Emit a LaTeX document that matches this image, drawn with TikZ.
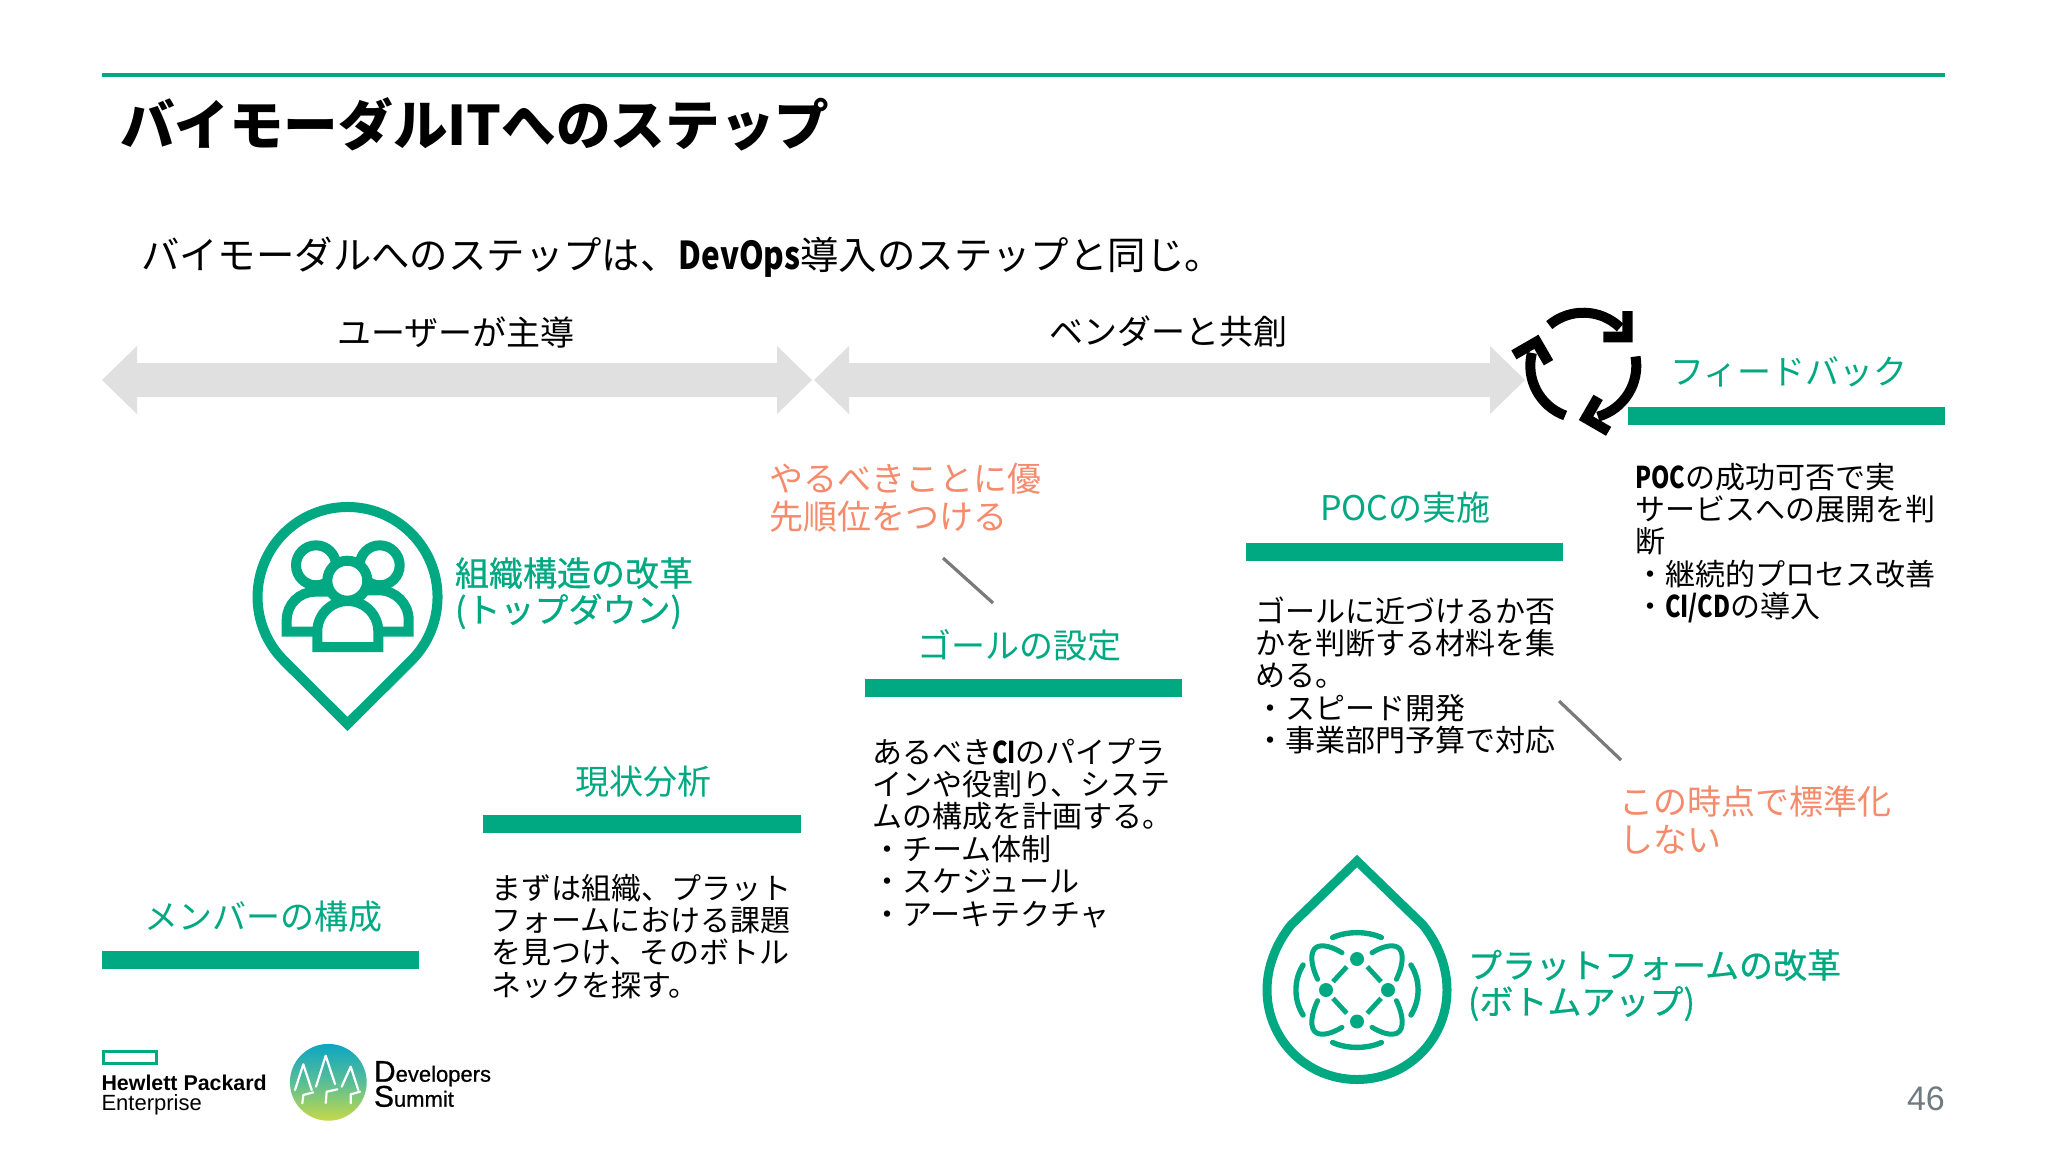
\documentclass[tikz,border=0pt]{standalone}
\usepackage{fontspec}
\setmainfont{Noto Sans CJK JP}
\newfontfamily\latinsans{Liberation Sans}
\newfontfamily\latinheavy[FakeBold=0.7]{Liberation Sans}
\newfontfamily\cjkheavy[FakeBold=0.6]{Noto Sans CJK JP}
\definecolor{hpegreen}{HTML}{01A982}
\definecolor{arrowgray}{HTML}{E0E0E1}
\definecolor{notegray}{HTML}{7A7A7A}
\definecolor{noteorange}{HTML}{F58B6C}
\definecolor{pagegray}{HTML}{6F7B80}
\newcommand{\linesat}[2]{\fontsize{#1}{#2}\selectfont}
\newcommand{\stack}[1]{\vtop{\lineskiplimit=-100pt\lineskip=0pt\def\\{\cr}\halign{##\hfil\cr #1\crcr}}}
\newcommand{\narrowbf}[1]{\scalebox{0.78}[1]{\bfseries #1}}
\tikzset{
  x=0.5pt,y=0.5pt,
  txt/.style={inner sep=0pt,outer sep=0pt,anchor=base west},
  head/.style={txt,text=hpegreen,font=\linesat{17}{19}},
  body/.style={txt,text=black,font=\linesat{15}{16.2}},
  orange/.style={txt,text=noteorange,font=\linesat{17}{19}},
  label/.style={txt,text=hpegreen,font=\cjkheavy\linesat{17}{18.2}},
  bar/.style={fill=hpegreen,draw=none},
  band/.style={fill=arrowgray,draw=none},
  note/.style={draw=notegray,line width=1.6pt},
  ico/.style={draw=hpegreen,line width=5pt,miter limit=10,fill=none},
  tree/.style={draw=white,line width=1.1pt,line join=round,line cap=round},
}
\begin{document}
\begin{tikzpicture}
\useasboundingbox (0,0) rectangle (2048,-1152);
\fill[white] (0,0) rectangle (2048,-1152);
% top rule + title
\fill[hpegreen] (102,-73) rectangle (1945,-76.5);
\node[txt,font=\linesat{27.3}{30}\bfseries] (title) at (120,-145) {バイモーダルITへのステップ};
\node[txt,font=\linesat{19.2}{22}] (sub) at (141,-269) {バイモーダルへのステップは、\scalebox{0.82}[1]{\bfseries DevOps}導入のステップと同じ。};
% band arrows
\node[head,text=black] (t1) at (337,-345) {ユーザーが主導};
\node[head,text=black] (t2) at (1049,-344) {ベンダーと共創};
\fill[band] (102,-380) -- (137,-346) -- (137,-363) -- (777,-363) -- (777,-346) -- (812,-380) -- (777,-414) -- (777,-397) -- (137,-397) -- (137,-414) -- cycle;
\fill[band] (814,-380) -- (849,-346) -- (849,-363) -- (1490,-363) -- (1490,-346) -- (1525,-380) -- (1490,-414) -- (1490,-397) -- (849,-397) -- (849,-414) -- cycle;
% cycle icon
\foreach \r in {0,-120,-240}{
  \begin{scope}[shift={(1583.3,-365.7)},rotate=\r]
    \draw[line width=5pt,black] (130:26.5pt) arc[start angle=130,end angle=46,radius=26.5pt];
    \fill[black] (49.3,54.7) -- (49.3,23.3) -- (20,23.3) -- (20,34) -- (39,34) -- (39,54.7) -- cycle;
  \end{scope}
}
% bars
\fill[bar] (102,-951) rectangle (419,-969);
\fill[bar] (483,-815) rectangle (801,-833);
\fill[bar] (865,-679) rectangle (1182,-697);
\fill[bar] (1246,-543) rectangle (1563,-561);
\fill[bar] (1628,-407) rectangle (1945,-425);
% headings
\node[head] (h1) at (144,-929) {メンバーの構成};
\node[head] (h2) at (575,-794) {現状分析};
\node[head] (h3) at (917,-658) {ゴールの設定};
\node[head] (h4) at (1320,-520) {POCの実施};
\node[head] (h5) at (1670,-384) {フィードバック};
% body
\node[body] (b2) at (491,-899) {\stack{まずは組織、プラット\\フォームにおける課題\\を見つけ、そのボトル\\ネックを探す。}};
\node[body] (b3) at (872,-763) {\stack{あるべき\narrowbf{CI}のパイプラ\\インや役割り、システ\\ムの構成を計画する。\\・チーム体制\\・スケジュール\\・アーキテクチャ}};
\node[body] (b4) at (1255,-622) {\stack{ゴールに近づけるか否\\かを判断する材料を集\\める。\\・スピード開発\\・事業部門予算で対応}};
\node[body] (b5) at (1635,-488) {\stack{\narrowbf{POC}の成功可否で実\\サービスへの展開を判\\断\\・継続的プロセス改善\\・\narrowbf{CI/CD}の導入}};
% orange notes
\node[orange] (o1) at (769,-491) {\stack{やるべきことに優\\先順位をつける}};
\node[orange] (o2) at (1619,-814) {\stack{この時点で標準化\\しない}};
\coordinate (n1a) at (943,-558); \coordinate (n1b) at (993,-603);
\coordinate (n2a) at (1559,-701); \coordinate (n2b) at (1621,-760);
\draw[note] (n1a) -- (n1b);
\draw[note] (n2a) -- (n2b);
% pin icon
\draw[ico] (347.5,-724) -- (283.9,-660.6) arc[start angle=225,end angle=-45,radius=45pt] -- cycle;
\draw[ico] (318,-631.7) -- (286.7,-631.7) -- (286.7,-620) arc[start angle=180,end angle=90,radius=14.15pt] -- (330,-591.7);
\draw[ico] (378,-631.7) -- (408.7,-631.7) -- (408.7,-620) arc[start angle=0,end angle=90,radius=14.85pt] -- (365,-590.3);
\draw[ico] (316,-565.3) circle[radius=10pt];
\draw[ico] (379.7,-565.3) circle[radius=10pt];
\draw[ico,fill=white] (347.3,-580.7) circle[radius=10pt];
\draw[ico,fill=white] (317.3,-647) -- (317.3,-631.5) arc[start angle=180,end angle=0,radius=15.25pt] -- (378.3,-647) -- cycle;
\node[label] (l1) at (455,-586) {\stack{組織構造の改革\\(トップダウン)}};
% droplet icon
\draw[ico,line width=4.5pt] (1357,-861) -- (1291,-925) .. controls (1275,-945) and (1267,-968) .. (1267,-990) .. controls (1267,-1040) and (1307,-1079.5) .. (1357,-1079.5) .. controls (1407,-1079.5) and (1447,-1040) .. (1447,-990) .. controls (1447,-968) and (1439,-945) .. (1423,-925) -- cycle;
\foreach \sx/\sy in {1/1,-1/1,1/-1,-1/-1}{
 \begin{scope}[shift={(1357,-990)},xscale=\sx,yscale=\sy]
  \begin{scope}[xscale=1.22]
  \draw[hpegreen,line width=2.5pt,line cap=round] (-12.3,37.3) .. controls (-20,43) and (-28,46) .. (-33,43) .. controls (-39,39) and (-38,25) .. (-32.3,10.7);
  \draw[hpegreen,line width=2.4pt] (-19.7,8.3) -- (-8.4,23.3);
  \end{scope}
 \end{scope}
}
\begin{scope}[shift={(1357,-990)},xscale=1.22]
\draw[hpegreen,line width=2.7pt,line cap=round] (-20,52.5) .. controls (-8,59) and (8,59) .. (20,52.5);
\draw[hpegreen,line width=2.7pt,line cap=round] (-20,-52.5) .. controls (-8,-59) and (8,-59) .. (20,-52.5);
\draw[hpegreen,line width=2.7pt,line cap=round] (-44.2,25) .. controls (-52,10) and (-52,-10) .. (-44.2,-25);
\draw[hpegreen,line width=2.7pt,line cap=round] (44.2,25) .. controls (52,10) and (52,-10) .. (44.2,-25);
\end{scope}
\fill[hpegreen] (1357,-959) circle[radius=3.5pt];
\fill[hpegreen] (1357,-1021.5) circle[radius=3.5pt];
\fill[hpegreen] (1326,-990) circle[radius=3.5pt];
\fill[hpegreen] (1388,-990) circle[radius=3.5pt];
\node[label] (l2) at (1468,-978) {\stack{プラットフォームの改革\\(ボトムアップ)}};
% HPE logo
\draw[hpegreen,line width=1.5pt] (103.8,-1051.5) rectangle (156.5,-1063.2);
\node[txt,font=\latinsans\bfseries\fontsize{10.7}{12}\selectfont] (hpe1) at (101.5,-1090) {Hewlett Packard};
\node[txt,font=\latinsans\fontsize{11}{12}\selectfont] (hpe2) at (101.5,-1110.5) {Enterprise};
% Summit logo
\shade[top color={rgb,255:red,12;green,165;blue,194},bottom color={rgb,255:red,198;green,217;blue,72},middle color={rgb,255:red,90;green,190;blue,150}] (328.3,-1082.3) circle[radius=19.2pt];
\draw[tree] (316,-1086.7) -- (325.7,-1055.7) -- (335,-1084);
\draw[tree] (325.7,-1103) -- (326.7,-1091.7) -- (337.3,-1089.3);
\draw[tree] (295,-1090) -- (303.3,-1064.3) -- (311.7,-1090);
\draw[tree] (302.3,-1103.3) -- (303.3,-1095) -- (313.3,-1092.3);
\draw[tree] (341.7,-1086.7) -- (350.7,-1066.7) -- (358.3,-1090);
\draw[tree] (350.7,-1103.3) -- (350.7,-1094.3) -- (360,-1091.7);
\node[txt,font=\latinheavy\fontsize{11}{12}\selectfont] (ds1) at (374,-1081.7) {{\fontsize{15}{15}\selectfont D}evelopers};
\node[txt,font=\latinheavy\fontsize{11}{12}\selectfont] (ds2) at (374,-1106.7) {{\fontsize{15}{15}\selectfont S}ummit};
% page number
\node[txt,text=pagegray,font=\latinsans\fontsize{17}{20}\selectfont] (pg) at (1907,-1110) {46};
\end{tikzpicture}
\end{document}
